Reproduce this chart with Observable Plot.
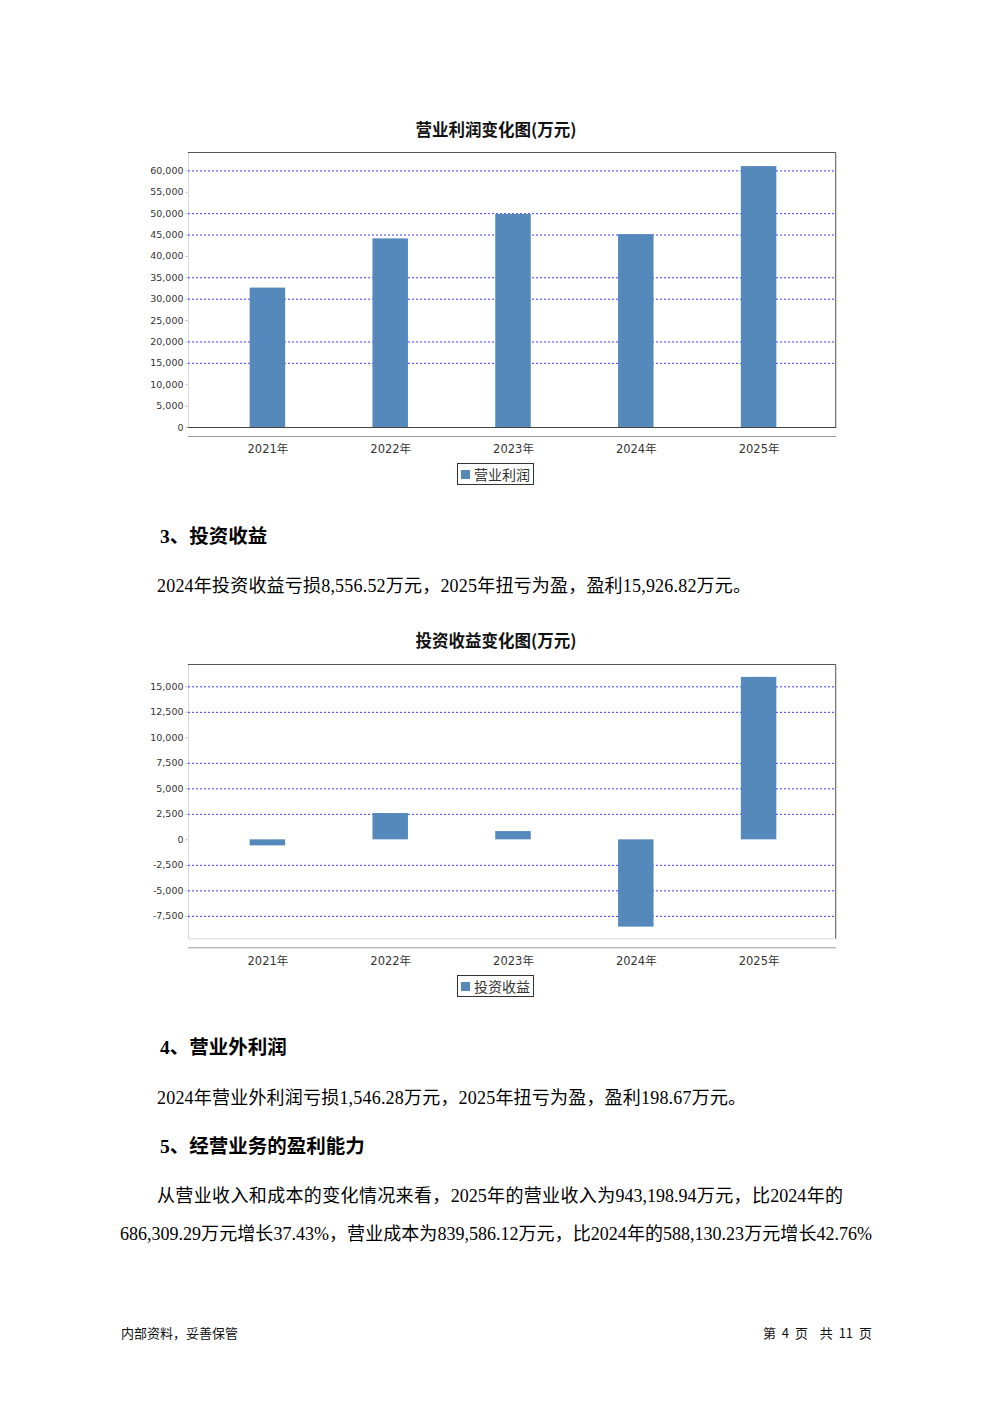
<!DOCTYPE html>
<html>
<head>
<meta charset="utf-8">
<script src="https://cdn.jsdelivr.net/npm/d3@7"></script>
<script src="https://cdn.jsdelivr.net/npm/@observablehq/plot@0.6"></script>
<style>
  html, body { margin: 0; padding: 0; background: #fff; }
  #page { position: relative; width: 992px; height: 1403px; overflow: hidden; background: #fff; color: #000; }
  .abs { position: absolute; white-space: nowrap; }
  .ctitle { font-family: "Noto Sans CJK SC", "DejaVu Sans", sans-serif; font-weight: bold; font-size: 16.5px; line-height: 20px; color: #111; width: 992px; left: 0; text-align: center; }
  .legend { font-family: "Noto Sans CJK SC", sans-serif; font-size: 14px; line-height: 20px; color: #333; border: 1px solid #333; box-sizing: border-box; height: 22px; padding: 0 3px 0 3px; display: flex; align-items: center; }
  .legend .sw { display: inline-block; width: 9px; height: 9px; margin-right: 4px; }
  .h { font-family: "Liberation Serif", "Noto Sans CJK SC", serif; font-weight: bold; font-size: 19.5px; line-height: 26px; }
  .p { font-family: "Liberation Serif", "Noto Sans CJK SC", serif; font-size: 18px; line-height: 24px; letter-spacing: 0.2px; }
  .pj { letter-spacing: 0; }
  .foot { font-family: "Noto Sans CJK SC", sans-serif; font-size: 13px; line-height: 18px; color: #111; }
</style>
</head>
<body>
<div id="page"></div>
<script>
// ---- data ----
const years = ["2021年", "2022年", "2023年", "2024年", "2025年"];
const operatingProfit = [32600, 44100, 49800, 45100, 61000];
const investmentIncome = [-590, 2580, 810, -8556.52, 15926.82];
const profitTicks = [0, 5000, 10000, 15000, 20000, 25000, 30000, 35000, 40000, 45000, 50000, 55000, 60000];
const profitGrid = [15000, 20000, 30000, 35000, 45000, 50000, 60000];
const profitDomain = [0, 64300];
const incomeTicks = [-7500, -5000, -2500, 0, 2500, 5000, 7500, 10000, 12500, 15000];
const incomeGrid = [-7500, -5000, -2500, 2500, 5000, 7500, 12500, 15000];
const incomeDomain = [-9700, 17190];
const chartTitles = ["营业利润变化图(万元)", "投资收益变化图(万元)"];
const seriesNames = ["营业利润", "投资收益"];
const barColor = "#5588bb";

const page = document.getElementById("page");
const fmt = d3.format(",");
const tickFmt = d => fmt(d).replace("\u2212", "-");

function addDiv(cls, text, style) {
  const d = document.createElement("div");
  d.className = "abs " + cls;
  d.textContent = text;
  Object.assign(d.style, style);
  page.appendChild(d);
  return d;
}

function makeChart(values, ticks, grid, domain, zeroLine) {
  const W = 720, H = 315, mL = 58, mR = 14, mT = 7;
  const mB = H - mT - (zeroLine ? 275 : 274.3);
  const data = years.map((year, i) => ({year, value: values[i]}));
  const plotW = W - mL - mR;
  const marks = [
    Plot.frame({stroke: "#d8d8d8"}),
    Plot.ruleY(grid, {stroke: "#3a3aff", strokeDasharray: "2,2", strokeWidth: 1}),
    Plot.ruleY([domain[1]], {stroke: "#555"}),
    Plot.rect([0], {y1: domain[0], y2: domain[1], fill: "#777", insetLeft: plotW - 1}),
    Plot.barY(data, {x: "year", y: "value", fill: barColor}),
    Plot.ruleY([domain[0]], {dy: 9, stroke: "#999"}),
    Plot.axisY(ticks, {tickFormat: tickFmt, tickSize: 3, tickPadding: 2, fontSize: 9.5, stroke: "#ccc", fill: "#333", fontFamily: "DejaVu Sans, sans-serif"}),
    Plot.axisX({tickSize: 0, tickPadding: zeroLine ? 17 : 18, fontSize: 11.5, fill: "#333", fontFamily: "DejaVu Sans, Noto Sans CJK SC, sans-serif"})
  ];
  if (zeroLine) marks.push(Plot.ruleY([0], {stroke: "#444"}));
  return Plot.plot({
    width: W, height: H,
    marginLeft: mL, marginRight: mR, marginTop: mT, marginBottom: mB,
    style: {background: "transparent", overflow: "visible"},
    x: {domain: years, range: [76, 690], round: false, paddingInner: 0.711, paddingOuter: 0.3555, label: null, axis: null},
    y: {domain: domain, label: null, axis: null},
    marks
  });
}

function placeChart(svg, top) {
  const wrap = document.createElement("div");
  wrap.className = "abs";
  wrap.style.left = "130px";
  wrap.style.top = top + "px";
  wrap.appendChild(svg);
  page.appendChild(wrap);
}

function addLegend(name, top) {
  const d = document.createElement("div");
  d.className = "abs legend";
  d.style.left = "457px";
  d.style.top = top + "px";
  const sw = document.createElement("span");
  sw.className = "sw";
  sw.style.background = barColor;
  d.appendChild(sw);
  d.appendChild(document.createTextNode(name));
  page.appendChild(d);
}

// chart 1
addDiv("ctitle", chartTitles[0], {top: "119px"});
placeChart(makeChart(operatingProfit, profitTicks, profitGrid, profitDomain, true), 145);
addLegend(seriesNames[0], 463);

// section 3
addDiv("h", "3、投资收益", {left: "160px", top: "524px"});
addDiv("p", "2024年投资收益亏损8,556.52万元，2025年扭亏为盈，盈利15,926.82万元。", {left: "157px", top: "574px"});

// chart 2
addDiv("ctitle", chartTitles[1], {top: "630px"});
placeChart(makeChart(investmentIncome, incomeTicks, incomeGrid, incomeDomain, false), 657);
addLegend(seriesNames[1], 975);

// section 4
addDiv("h", "4、营业外利润", {left: "160px", top: "1035px"});
addDiv("p", "2024年营业外利润亏损1,546.28万元，2025年扭亏为盈，盈利198.67万元。", {left: "157px", top: "1086px"});

// section 5
addDiv("h", "5、经营业务的盈利能力", {left: "160px", top: "1134px"});
addDiv("p pj", "从营业收入和成本的变化情况来看，2025年的营业收入为943,198.94万元，比2024年的", {left: "157px", top: "1184px", width: "686px", whiteSpace: "normal", textAlign: "justify", textAlignLast: "justify"});
addDiv("p pj", "686,309.29万元增长37.43%，营业成本为839,586.12万元，比2024年的588,130.23万元增长42.76%", {left: "120px", top: "1222px", width: "752px", whiteSpace: "normal", textAlign: "justify", textAlignLast: "justify"});

// footer
addDiv("foot", "内部资料，妥善保管", {left: "121px", top: "1324px"});
addDiv("foot", "第 4 页  共 11 页", {right: "120px", top: "1324px", whiteSpace: "pre", wordSpacing: "3px"});
</script>
</body>
</html>
